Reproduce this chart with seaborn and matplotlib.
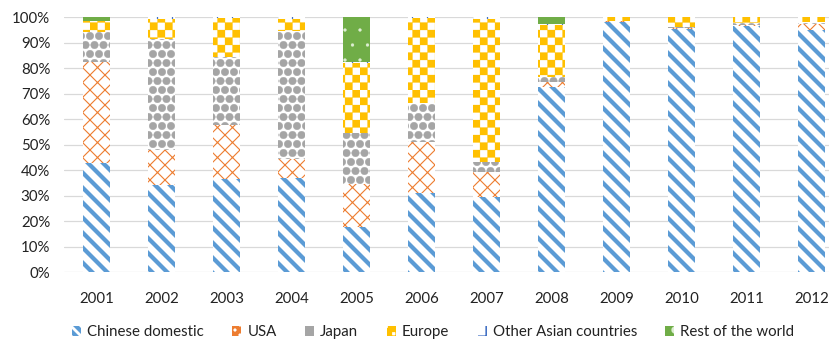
import numpy as np
import pandas as pd
import matplotlib
matplotlib.use("Agg")
import matplotlib.pyplot as plt
import matplotlib.hatch as mhatch
from matplotlib.path import Path
from matplotlib.patches import Patch
import seaborn as sns

# ---------------- data (percent share) ----------------
years = ["2001", "2002", "2003", "2004", "2005", "2006",
         "2007", "2008", "2009", "2010", "2011", "2012"]
chinese_domestic = [42.7, 34.0, 36.5, 37.0, 17.5, 30.8, 29.3, 72.4, 98.0, 95.3, 96.5, 94.9]
usa = [39.7, 13.8, 21.1, 7.2, 16.9, 20.3, 10.0, 2.2, 0.3, 0.5, 0.3, 2.4]
japan = [11.6, 43.4, 26.6, 50.4, 20.0, 15.0, 4.0, 1.7, 0.3, 0.2, 1.0, 0.7]
europe = [4.5, 8.0, 15.5, 4.6, 27.7, 33.6, 56.0, 20.6, 1.4, 4.0, 2.2, 2.0]
other_asian = [0.0, 0.8, 0.3, 0.8, 0.3, 0.3, 0.7, 0.3, 0.0, 0.0, 0.0, 0.0]
rest_of_world = [1.5, 0.0, 0.0, 0.0, 17.6, 0.0, 0.0, 2.8, 0.0, 0.0, 0.0, 0.0]
series_names = ["Chinese domestic", "USA", "Japan", "Europe",
                "Other Asian countries", "Rest of the world"]
y_ticks = [0, 10, 20, 30, 40, 50, 60, 70, 80, 90, 100]


# ---------------- custom hatch patterns ----------------
class BallHatch(mhatch.Shapes):
    filled = True
    size = 0.42

    def __init__(self, hatch, density):
        self.num_rows = hatch.count('o') * 10
        path = Path.unit_circle()
        self.shape_vertices = path.vertices
        self.shape_codes = path.codes
        super().__init__(hatch, density)


class CheckerHatch(mhatch.HatchPatternBase):
    def __init__(self, hatch, density):
        self.m = hatch.count('*') * 12
        self.cells = [(i, j) for i in range(self.m) for j in range(self.m)
                      if (i + j) % 2 == 0] if self.m else []
        self.num_vertices = len(self.cells) * 5

    def set_vertices_and_codes(self, vertices, codes):
        s = 1.0 / self.m
        k = 0
        for (i, j) in self.cells:
            x0, y0 = i * s, j * s
            vertices[k:k + 5] = [(x0, y0), (x0 + s, y0), (x0 + s, y0 + s),
                                 (x0, y0 + s), (x0, y0)]
            codes[k:k + 5] = [Path.MOVETO, Path.LINETO, Path.LINETO,
                              Path.LINETO, Path.CLOSEPOLY]
            k += 5


mhatch._hatch_types = [t for t in mhatch._hatch_types
                       if t not in (mhatch.SmallCircles, mhatch.Stars)] + [BallHatch, CheckerHatch]

styles = [
    dict(face="white", edge="#5B9BD5", hatch="\\\\", lw=3.4),
    dict(face="white", edge="#ED7D31", hatch="xx", lw=0.9),
    dict(face="white", edge="#A5A5A5", hatch="o", lw=0.3),
    dict(face="white", edge="#FFC000", hatch="*", lw=0.2),
    dict(face="white", edge="#4472C4", hatch="+", lw=1.0),
    dict(face="#70AD47", edge="#DDEED3", hatch=".", lw=0.2),
]

# ---------------- theme ----------------
sns.set_style("white")
plt.rcParams["font.family"] = ["Lato", "DejaVu Sans"]
FS = 12

DPI = 90
fig = plt.figure(figsize=(830 / DPI, 345 / DPI), dpi=DPI)
ax = fig.add_axes([64 / 830, 1 - 272 / 345, 1 - 64 / 830, (272 - 17) / 345])

data = [chinese_domestic, usa, japan, europe, other_asian, rest_of_world]
cum = np.cumsum(np.array(data), axis=0)


def style_patch(p, st):
    p.set_facecolor(st["face"])
    p.set_edgecolor(st["edge"])
    p.set_hatch(st["hatch"])
    p.set_linewidth(0)
    if hasattr(p, "set_hatch_linewidth"):
        p.set_hatch_linewidth(st["lw"])


# draw from top of stack down so that lower segments cover upper ones
for k in range(len(data) - 1, -1, -1):
    st = styles[k]
    plt.rcParams["hatch.linewidth"] = st["lw"]
    df = pd.DataFrame({"year": years, "value": cum[k]})
    sns.barplot(data=df, x="year", y="value", order=years, color=st["edge"],
                width=0.42, errorbar=None, ax=ax)
    for p in ax.containers[-1]:
        style_patch(p, st)

ax.set_xlim(-0.5, 11.28)
ax.set_ylim(0, 100)
ax.set_yticks(y_ticks)
ax.set_yticklabels([f"{t}%" for t in y_ticks])
ax.yaxis.grid(True, color="#D9D9D9", linewidth=1.0)
ax.xaxis.grid(False)
ax.set_axisbelow(True)
for s in ax.spines.values():
    s.set_visible(False)
ax.set_xlabel("")
ax.set_ylabel("")
ax.tick_params(axis="y", length=0, pad=11, labelsize=FS, colors="#222222")
ax.tick_params(axis="x", length=0, pad=16, labelsize=FS, colors="#222222")

legend_hatch = ["\\\\\\", "xxx", "o", "*", "+", "."]
handles = []
for name, st, lh in zip(series_names, styles, legend_hatch):
    h = Patch(facecolor=st["face"], edgecolor=st["edge"], hatch=lh,
              linewidth=0, label=name)
    if hasattr(h, "set_hatch_linewidth"):
        h.set_hatch_linewidth(st["lw"])
    handles.append(h)
fig.legend(handles=handles, loc="center", bbox_to_anchor=(0.522, 0.037),
           ncol=6, frameon=False, fontsize=FS, handlelength=0.6,
           handleheight=0.6, handletextpad=0.4, columnspacing=1.9,
           labelcolor="#222222")

fig.savefig("out.png", dpi=DPI)
